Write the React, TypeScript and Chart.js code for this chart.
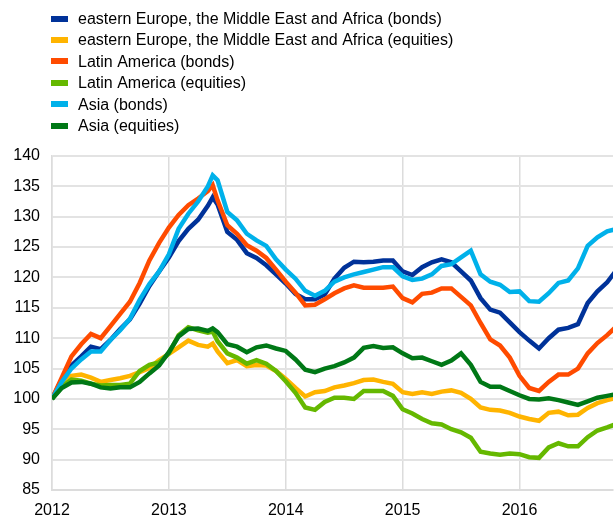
import React, { useEffect, useRef } from "react";
import { Chart, registerables } from "chart.js";

Chart.register(...registerables);

// month offsets from January 2012 (one extra point near the mid-2013 peak)
const monthOffsets = [
  0, 1, 2, 3, 4, 5, 6, 7, 8, 9, 10, 11, 12, 13, 14, 15, 16, 16.5, 17, 18, 19, 20,
  21, 22, 23, 24, 25, 26, 27, 28, 29, 30, 31, 32, 33, 34, 35, 36, 37, 38, 39, 40,
  41, 42, 43, 44, 45, 46, 47, 48, 49, 50, 51, 52, 53, 54, 55, 56, 57, 58,
];

const yearTicks = [2012, 2013, 2014, 2015, 2016];

const seriesLabels = [
  "eastern Europe, the Middle East and Africa (bonds)",
  "eastern Europe, the Middle East and Africa (equities)",
  "Latin America (bonds)",
  "Latin America (equities)",
  "Asia (bonds)",
  "Asia (equities)",
];

const emeaBonds = [
  100, 103.2, 105.5, 107, 108.6, 108.2, 109.7, 111.5, 113.1, 115.7, 118.6, 121, 123.3, 126, 128, 129.5, 131.8,
  133.2,
  132, 127.5, 126.2, 124, 123.2, 122, 120.5, 119, 117.3, 116.4, 116.4, 117.2, 119.8, 121.6, 122.6, 122.5, 122.6,
  122.8, 122.8, 121, 120.4, 121.7, 122.5, 123, 122.5, 121, 119.5, 116.6, 114.7, 114.2, 112.6, 111, 109.6, 108.3,
  110, 111.4, 111.7, 112.3, 115.8, 117.7, 119.2, 121.3,
];

const emeaEquities = [
  100, 102.6, 103.8, 104, 103.5, 102.8, 103.1, 103.4, 103.8, 104.4, 105.1, 106.4, 107.4, 108.5, 109.6, 108.9, 108.6,
  109.1,
  107.8, 105.9, 106.4, 105.4, 105.6, 105.5, 104.6, 103.3, 101.8, 100.4, 101.1, 101.3, 101.9, 102.2, 102.6, 103.1,
  103.2, 102.8, 102.5, 101.1, 100.8, 101.1, 100.8, 101.2, 101.4, 101, 100, 98.6, 98.2, 98.1, 97.7, 97.1, 96.7, 96.4,
  97.7, 97.9, 97.3, 97.4, 98.5, 99.3, 99.8, 100.2,
];

const latamBonds = [
  100, 103.5, 107, 109, 110.7, 110, 112, 114, 116, 119.1, 122.8, 125.7, 128.2, 130.3, 131.9, 133, 134.2,
  135.2,
  132.7, 128.6, 127.2, 125.3, 124.4, 123.2, 121.3, 119.3, 117.5, 115.4, 115.5, 116.4, 117.4, 118.2, 118.7, 118.3,
  118.3, 118.3, 118.5, 116.6, 115.9, 117.3, 117.5, 118.2, 118.2, 116.8, 115.4, 112.5, 109.8, 108.8, 106.8, 103.8,
  101.8, 101.3, 102.8, 104, 104, 105, 107.5, 109.2, 110.5, 112,
];

const latamEquities = [
  100, 102, 103.2, 103, 102.5, 102.2, 102.3, 102.3, 102.5, 104.6, 105.6, 106, 107.5, 110.5, 111.8, 111.3, 110.9,
  111.1,
  109.5, 107.5, 106.8, 105.8, 106.4, 105.8, 104.6, 102.9, 101, 98.6, 98.2, 99.5, 100.2, 100.2, 100, 101.3, 101.3,
  101.3, 100.5, 98.3, 97.6, 96.7, 96, 95.8, 95, 94.5, 93.6, 91.3, 91, 90.8, 91, 90.9, 90.4, 90.3, 92, 92.7, 92.2,
  92.2, 93.7, 94.8, 95.3, 95.9,
];

const asiaBonds = [
  100, 102.8, 105, 106.5, 107.8, 107.8, 109.7, 111.3, 113.2, 116.3, 118.9, 121, 123.8, 128, 130.5, 132.5, 135,
  136.8,
  136, 130.8, 129.4, 127.2, 126.1, 125.2, 123, 121.3, 119.8, 117.8, 117, 117.8, 119.3, 120, 120.5, 120.9, 121.3,
  121.7, 121.7, 120.2, 119.6, 119.8, 120.5, 121.9, 122.2, 123.3, 124.4, 120.5, 119.3, 118.8, 117.6, 117.7, 116.1,
  116, 117.4, 119.1, 119.5, 121.5, 125.2, 126.6, 127.6, 128,
];

const asiaEquities = [
  100, 101.8, 102.7, 102.8, 102.5, 101.9, 101.7, 101.9, 101.9, 102.8, 104.2, 105.5, 107.7, 110.3, 111.5, 111.6, 111.2,
  111.6,
  111, 109, 108.6, 107.7, 108.5, 108.8, 108.3, 107.9, 106.5, 104.8, 104.4, 105, 105.4, 106, 106.8, 108.4, 108.7,
  108.4, 108.5, 107.5, 106.7, 106.8, 106.2, 105.6, 106.3, 107.5, 105.6, 102.8, 102, 102, 101.3, 100.6, 100, 99.9,
  100.1, 99.8, 99.4, 99, 99.6, 100.2, 100.5, 100.8,
];

const seriesValues = [emeaBonds, emeaEquities, latamBonds, latamEquities, asiaBonds, asiaEquities];
const seriesColors = ["#003299", "#FFB400", "#FF4B00", "#65B800", "#00B1EA", "#007816"];

const FONT = 'Arial, "Liberation Sans", sans-serif';

const legendPlugin = {
  id: "customLegend",
  afterDraw(chart: any) {
    const ctx = chart.ctx;
    ctx.save();
    ctx.font = `16px ${FONT}`;
    ctx.textBaseline = "middle";
    ctx.textAlign = "left";
    chart.data.datasets.forEach((ds: any, i: number) => {
      const y = 18.5 + i * 21.45;
      ctx.fillStyle = ds.borderColor;
      ctx.fillRect(51, Math.round(y - 3), 17, 6);
      ctx.fillStyle = "#000000";
      ctx.fillText(ds.label, 78, y + 1);
    });
    ctx.restore();
  },
};

export default function App() {
  const canvasRef = useRef<HTMLCanvasElement | null>(null);

  useEffect(() => {
    if (!canvasRef.current) return;
    const dates = monthOffsets.map((m) => 2012 + m / 12);
    const datasets = seriesValues.map((vals, i) => ({
      label: seriesLabels[i],
      data: vals.map((v, j) => ({ x: dates[j], y: v })),
      borderColor: seriesColors[i],
      backgroundColor: seriesColors[i],
      borderWidth: 4.5,
      pointRadius: 0,
      tension: 0,
      fill: false,
      order: seriesValues.length - i,
    }));

    const chart = new Chart(canvasRef.current, {
      type: "line",
      data: { datasets },
      plugins: [legendPlugin],
      options: {
        animation: false,
        responsive: false,
        devicePixelRatio: 1,
        layout: { padding: { top: 156, right: 1, left: 0, bottom: 0 } },
        plugins: { legend: { display: false }, tooltip: { enabled: false } },
        scales: {
          x: {
            type: "linear",
            min: 2012,
            max: 2016.8,
            afterFit: (s: any) => {
              s.height = 28;
            },
            afterBuildTicks: (s: any) => {
              s.ticks = yearTicks.map((v) => ({ value: v }));
            },
            ticks: {
              callback: (v: any) => String(v),
              font: { family: FONT, size: 16 },
              color: "#000000",
              padding: 11,
              maxRotation: 0,
              autoSkip: false,
            },
            grid: { color: "#dcdcdc", lineWidth: 1.5, drawTicks: false },
            border: { color: "#dcdcdc", width: 2 },
          },
          y: {
            min: 85,
            max: 140,
            afterFit: (s: any) => {
              s.width = 52;
            },
            ticks: {
              stepSize: 5,
              font: { family: FONT, size: 16 },
              color: "#000000",
              padding: 12,
            },
            grid: { color: "#e3e3e3", lineWidth: 2, drawTicks: false },
            border: { color: "#dcdcdc", width: 1.5 },
          },
        },
      },
    });
    return () => chart.destroy();
  }, []);

  return (
    <div style={{ position: "absolute", left: 0, top: 0, width: 614, height: 518, background: "#ffffff" }}>
      <canvas ref={canvasRef} width={614} height={518} />
    </div>
  );
}
